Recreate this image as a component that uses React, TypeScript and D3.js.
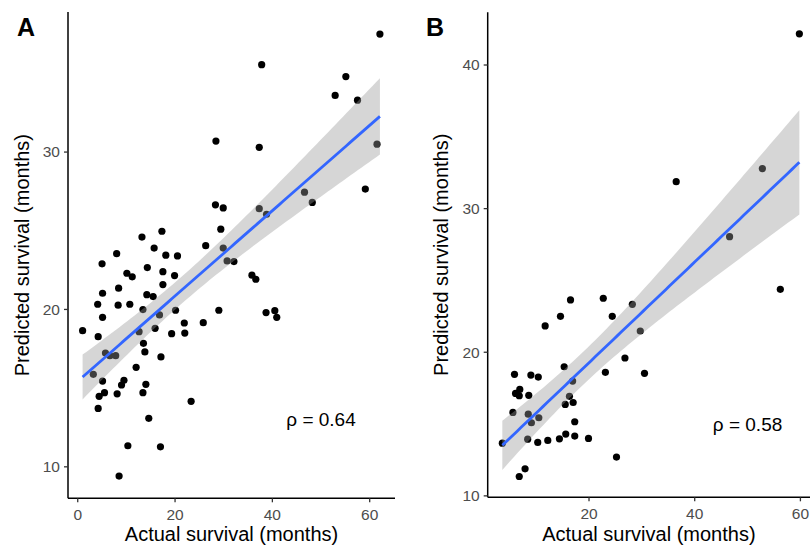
import React from "react";
import * as d3 from "d3";

// Panel A: actual vs predicted survival (months)
const actualA = [62.1, 37.8, 55.1, 52.9, 57.5, 28.4, 37.3, 61.5, 59.1, 46.6, 48.2, 28.3, 29.9, 37.3, 38.8, 29.4, 17.3, 13.2, 15.7, 8.0,
  18.1, 20.5, 26.3, 29.9, 5.0, 14.3, 10.1, 11.2, 17.5, 19.9, 17.5, 30.7, 32.1, 35.8, 36.6, 8.4, 5.1, 14.2, 15.5, 4.1,
  8.3, 10.7, 13.4, 20.1, 29.0, 38.7, 40.5, 40.9, 5.1, 16.8, 21.9, 25.8, 1.0, 12.6, 15.9, 19.3, 22.0, 4.2, 13.5, 13.8,
  5.7, 6.6, 7.8, 17.1, 12.0, 3.2, 5.1, 9.5, 9.0, 14.0, 5.5, 4.4, 8.1, 13.4, 4.2, 23.3, 14.6, 10.3, 17.0, 8.5];
const predictedA = [37.5, 35.55, 34.8, 33.6, 33.3, 30.7, 30.3, 30.5, 27.65, 27.45, 26.8, 26.65, 26.45, 26.4, 26.05, 25.1, 24.97, 24.6, 23.9, 23.55,
  23.45, 23.4, 24.05, 23.9, 22.9, 22.66, 22.3, 22.07, 22.4, 22.15, 21.58, 23.08, 23.04, 22.18, 21.92, 21.35, 21.03, 20.94, 20.82, 20.33,
  20.27, 20.33, 19.99, 19.95, 19.95, 19.8, 19.92, 19.5, 19.5, 19.65, 19.14, 19.16, 18.65, 18.59, 18.8, 18.46, 18.5, 18.27, 17.85, 17.3,
  17.23, 17.06, 17.06, 16.98, 16.32, 15.88, 15.45, 15.5, 15.2, 15.24, 14.71, 14.48, 14.64, 14.71, 13.71, 14.16, 13.08, 11.34, 11.27, 9.41];

// Panel B
const actualB = [59.8, 36.5, 52.8, 46.6, 56.2, 16.5, 22.7, 28.2, 14.6, 24.4, 11.7, 29.7, 26.8, 15.3, 5.9, 9.0, 10.4, 23.1, 30.5, 16.9,
  6.9, 6.1, 6.8, 8.6, 16.3, 17.0, 15.5, 5.6, 8.5, 10.5, 9.1, 17.3, 8.4, 10.3, 12.2, 14.4, 15.6, 17.3, 19.9, 3.6,
  25.2, 7.9, 6.8];
const predictedB = [42.17, 31.88, 32.79, 28.05, 24.38, 23.64, 23.76, 23.34, 22.5, 22.5, 21.83, 21.48, 19.6, 18.99, 18.46, 18.41, 18.27, 18.6, 18.53, 17.99,
  17.41, 17.13, 16.97, 17.0, 16.93, 16.5, 16.37, 15.81, 15.69, 15.44, 15.09, 15.16, 13.95, 13.72, 13.86, 13.97, 14.3, 14.16, 14.0, 13.67,
  12.7, 11.88, 11.35];

const xTicksA = [0, 20, 40, 60];
const yTicksA = [10, 20, 30];
const xTicksB = [20, 40, 60];
const yTicksB = [10, 20, 30, 40];

const FONT = "'Liberation Sans', Arial, sans-serif";

// simple lm fit with 95% confidence band (like geom_smooth(method = "lm"))
function fitLine(xs: number[], ys: number[]) {
  const n = xs.length;
  const mx = d3.mean(xs)!;
  const my = d3.mean(ys)!;
  let sxx = 0, sxy = 0;
  xs.forEach((x, i) => { sxx += (x - mx) ** 2; sxy += (x - mx) * (ys[i] - my); });
  const b = sxy / sxx;
  const a = my - b * mx;
  let sse = 0;
  xs.forEach((x, i) => { sse += (ys[i] - (a + b * x)) ** 2; });
  const s = Math.sqrt(sse / (n - 2));
  const t = 1.96 + 2.37 / (n - 2);
  const [x0, x1] = d3.extent(xs) as [number, number];
  const grid = d3.range(0, 81).map(i => x0 + (x1 - x0) * i / 80);
  return grid.map(x => {
    const fit = a + b * x;
    const se = s * Math.sqrt(1 / n + (x - mx) ** 2 / sxx);
    return { x, fit, lo: fit - t * se, hi: fit + t * se };
  });
}

type PanelProps = {
  label: string;
  xs: number[];
  ys: number[];
  xDomain: [number, number];
  yDomain: [number, number];
  xRange: [number, number];
  yRange: [number, number];
  xTicks: number[];
  yTicks: number[];
  rho: string;
  rhoAt: [number, number];
  labelX: number;
  yTitleX: number;
};

const Panel = (p: PanelProps) => {
  const x = d3.scaleLinear().domain(p.xDomain).range(p.xRange);
  const y = d3.scaleLinear().domain(p.yDomain).range(p.yRange);
  const fit = fitLine(p.xs, p.ys);

  const band = d3.area<{ x: number; lo: number; hi: number }>()
    .x(d => x(d.x)).y0(d => y(d.lo)).y1(d => y(d.hi))(fit);
  const line = d3.line<{ x: number; fit: number }>()
    .x(d => x(d.x)).y(d => y(d.fit))(fit);

  const left = p.xRange[0];
  const bottom = p.yRange[0];
  const top = p.yRange[1];
  const midX = (p.xRange[0] + Math.min(p.xRange[1], 810)) / 2;

  return (
    <g fontFamily={FONT}>
      {p.xs.map((v, i) => (
        <circle key={i} cx={x(v)} cy={y(p.ys[i])} r={3.6} fill="#000" />
      ))}
      <path d={band || ""} fill="#999999" fillOpacity={0.4} />
      <path d={line || ""} fill="none" stroke="#3366FF" strokeWidth={2.8} />

      {/* axes */}
      <line x1={left} x2={p.xRange[1]} y1={bottom} y2={bottom} stroke="#000" strokeWidth={1.5} />
      <line x1={left} x2={left} y1={bottom} y2={top} stroke="#000" strokeWidth={1.5} />
      {p.xTicks.map(t => (
        <g key={"x" + t}>
          <line x1={x(t)} x2={x(t)} y1={bottom} y2={bottom + 4} stroke="#333" strokeWidth={1.3} />
          <text x={x(t)} y={bottom + 22} textAnchor="middle" fontSize={15.5} fill="#4D4D4D">{t}</text>
        </g>
      ))}
      {p.yTicks.map(t => (
        <g key={"y" + t}>
          <line x1={left - 4} x2={left} y1={y(t)} y2={y(t)} stroke="#333" strokeWidth={1.3} />
          <text x={left - 8} y={y(t)} dy="0.35em" textAnchor="end" fontSize={15.5} fill="#4D4D4D">{t}</text>
        </g>
      ))}

      <text x={midX} y={541} textAnchor="middle" fontSize={20} fill="#000">Actual survival (months)</text>
      <text transform={`translate(${p.yTitleX},${(top + bottom) / 2}) rotate(-90)`} textAnchor="middle"
        dy="0.35em" fontSize={20} fill="#000">Predicted survival (months)</text>

      <text x={x(p.rhoAt[0])} y={y(p.rhoAt[1])} dy="0.35em" textAnchor="middle" fontSize={19} fill="#000">
        {"ρ = " + p.rho}
      </text>

      <text x={p.labelX} y={36} fontSize={25} fontWeight="bold" fill="#000">{p.label}</text>
    </g>
  );
};

export default function App() {
  return (
    <svg width={810} height={552} style={{ position: "absolute", left: 0, top: 0, background: "#fff" }}>
      <Panel label="A" xs={actualA} ys={predictedA}
        xDomain={[-2.0, 65.2]} yDomain={[8.0, 38.9]}
        xRange={[68, 395]} yRange={[498.3, 12]}
        xTicks={xTicksA} yTicks={yTicksA}
        rho="0.64" rhoAt={[50, 13]} labelX={17} yTitleX={22} />
      <Panel label="B" xs={actualB} ys={predictedB}
        xDomain={[0.83, 63.5]} yDomain={[9.9, 43.67]}
        xRange={[487.7, 487.7 + 62.67 * 5.285]} yRange={[497.3, 12.3]}
        xTicks={xTicksB} yTicks={yTicksB}
        rho="0.58" rhoAt={[50, 15]} labelX={426} yTitleX={441} />
    </svg>
  );
}
